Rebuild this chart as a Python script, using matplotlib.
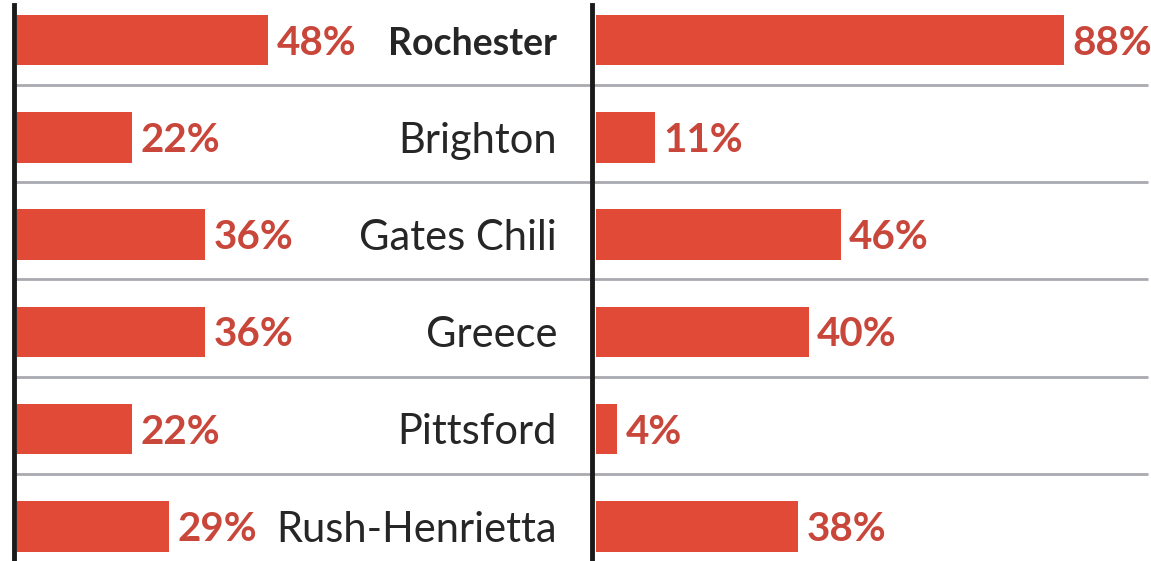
import numpy as np
import matplotlib
matplotlib.use("Agg")
import matplotlib.pyplot as plt

places = ['Rochester', 'Brighton', 'Gates Chili', 'Greece', 'Pittsford', 'Rush-Henrietta']
left_vals = [48, 22, 36, 36, 22, 29]
right_vals = [88, 11, 46, 40, 4, 38]

W, H = 1151, 561
bar_col = '#e04a37'
pct_col = '#c9463a'
sep_col = '#a9a9b1'

plt.rcParams['font.family'] = ['Lato', 'DejaVu Sans']

fig = plt.figure(figsize=(W/100, H/100), dpi=100)

# background axes in pixel coords for frame lines
bg = fig.add_axes([0, 0, 1, 1])
bg.set_xlim(0, W)
bg.set_ylim(H, 0)
bg.axis('off')

row_h = 97.3
y0 = 40
n = len(places)
rows = np.arange(n)
for i in range(n - 1):
	bg.plot([14, 1148], [y0 + row_h*(i+0.46)]*2, color=sep_col, lw=2, solid_capstyle='butt')
bg.plot([14.5, 14.5], [5, H], color='#1a1a1a', lw=3.5)
bg.plot([592, 592], [5, H], color='#1a1a1a', lw=3.5)

def panel(x_px, scale, vals):
	ax = fig.add_axes([x_px/W, 0, (W - x_px)/W, 1])
	ax.set_xlim(0, (W - x_px)/scale)
	ax.set_ylim((H - y0)/row_h, -y0/row_h)
	ax.axis('off')
	ax.barh(rows, vals, height=0.52, color=bar_col)
	for i, v in enumerate(vals):
		ax.annotate(f'{v}%', (v, i), xytext=(6, -10.5), textcoords='offset points',
			ha='left', va='baseline', fontsize=29, fontweight='bold', color=pct_col)
	return ax

axl = panel(17, 5.23, left_vals)
axr = panel(596, 5.32, right_vals)

for i, name in enumerate(places):
	axl.annotate(name, ((557 - 17)/5.23, i), xytext=(0, -11), textcoords='offset points',
		ha='right', va='baseline', fontsize=27 if i == 0 else 30,
		fontweight='bold' if i == 0 else 'normal', color='#262626')

fig.savefig('out.png', dpi=100)
